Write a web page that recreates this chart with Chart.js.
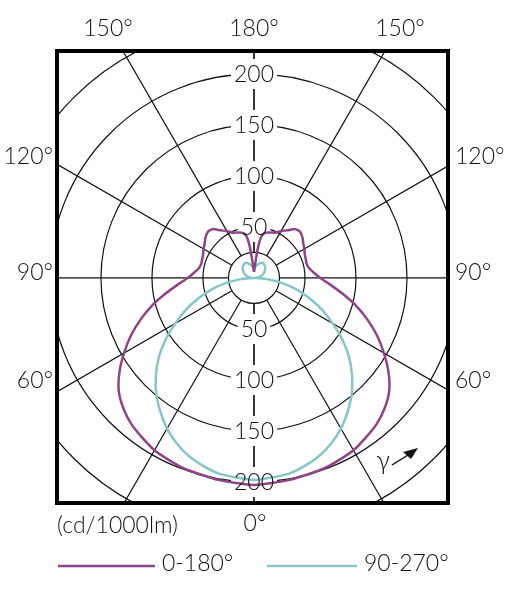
<!DOCTYPE html>
<html>
<head>
<meta charset="utf-8">
<script src="https://cdn.jsdelivr.net/npm/chart.js@4.4.1/dist/chart.umd.min.js"></script>
<style>
  html, body { margin: 0; padding: 0; background: #fff; }
  canvas { display: block; }
</style>
</head>
<body>
<canvas id="polarChart" width="526" height="600"></canvas>
<script>
// Luminous intensity, cd/1000lm, against gamma angle (0 = straight down)
const purpleGamma  = [0, 10, 20, 25, 30, 35, 40, 45, 50, 55, 60, 65, 70, 75, 80, 85, 90, 95, 100, 105, 110, 115, 120, 125, 130, 135, 140, 145, 150, 155, 160, 165, 168, 170, 172, 174, 176, 178, 180];
const purpleValues = [203, 201, 199, 197, 195, 191, 187, 181, 173, 161, 147, 133, 118, 103, 88, 75, 65, 59, 55, 53.5, 54, 55, 57, 59, 62, 64, 62.5, 57, 53, 49, 47.5, 46, 44, 41, 33, 20, 11, 7, 6];

const cyanGamma  = [0, 10, 15, 20, 25, 30, 35, 40, 45, 50, 55, 60, 65, 70, 75, 80, 85, 88, 90, 95, 100, 110, 120, 135, 150, 160, 170, 180];
const cyanValues = [198, 195, 191, 186, 179, 170.5, 160, 149, 136, 122, 106, 89, 73.5, 57.5, 43, 27.5, 13, 5, 0, 3, 5, 9, 12, 15.5, 17, 15, 12, 10];

const seriesNames = ['0-180°', '90-270°'];
const seriesColors = ['#8d4586', '#86c6c6'];

const ringValues = [25, 50, 100, 150, 200, 250];
const ringLabels = [50, 100, 150, 200];
const spokeAngles = [0, 30, 60, 90, 120, 150, 180];
const unitLabel = '(cd/1000lm)';

const FONT = '300 23px Lato, "Open Sans", sans-serif';

const rad = d => d * Math.PI / 180;

// mirror one plane onto both sides of the vertical axis
function toPoints(gammas, values) {
    const side = s => gammas.map((g, i) => ({
        x: s * values[i] * Math.sin(rad(g)),
        y: -values[i] * Math.cos(rad(g))
    }));
    return side(-1).reverse().concat(side(1).slice(1));
}

const polarGrid = {
    id: 'polarGrid',
    beforeDatasetsDraw(chart) {
        const { ctx, chartArea: a, scales: { x, y } } = chart;
        const cx = x.getPixelForValue(0), cy = y.getPixelForValue(0);
        const k = x.getPixelForValue(100) - cx; // px per 100 units
        ctx.save();
        ctx.beginPath();
        ctx.rect(a.left, a.top, a.width, a.height);
        ctx.clip();
        ctx.strokeStyle = '#111';
        ctx.lineWidth = 1.2;
        ringValues.forEach(v => {
            ctx.beginPath();
            ctx.arc(cx, cy, v * k / 100, 0, Math.PI * 2);
            ctx.stroke();
        });
        const r0 = 25 * k / 100, r1 = 500;
        spokeAngles.forEach(g => {
            [-1, 1].forEach(s => {
                const dx = s * Math.sin(rad(g)), dy = Math.cos(rad(g));
                ctx.beginPath();
                ctx.moveTo(cx + dx * r0, cy + dy * r0);
                ctx.lineTo(cx + dx * r1, cy + dy * r1);
                ctx.stroke();
            });
        });
        // white boxes behind the intensity labels
        ctx.font = FONT;
        ctx.fillStyle = '#fff';
        ringLabels.forEach(v => {
            const w = ctx.measureText(String(v)).width;
            [1, -1].forEach(s => {
                const py = y.getPixelForValue(s * v);
                ctx.fillRect(cx - w / 2 - 3, py - 15, w + 6, 30);
            });
        });
        ctx.restore();
    },
    afterDatasetsDraw(chart) {
        const { ctx, chartArea: a, scales: { x, y } } = chart;
        const cx = x.getPixelForValue(0);
        ctx.save();
        ctx.fillStyle = '#111';
        ctx.font = FONT;
        ctx.textAlign = 'center';
        ctx.textBaseline = 'middle';
        ringLabels.forEach(v => {
            [1, -1].forEach(s => ctx.fillText(String(v), cx, y.getPixelForValue(s * v) + 1));
        });

        // frame
        ctx.strokeStyle = '#000';
        ctx.lineWidth = 4;
        ctx.strokeRect(a.left, a.top, a.width, a.height);

        // gamma arrow
        ctx.font = '300 26px Lato, "Open Sans", sans-serif';
        ctx.fillText('γ', 383, 461);
        ctx.lineWidth = 1.3;
        ctx.beginPath();
        ctx.moveTo(392, 465);
        ctx.lineTo(408, 455);
        ctx.stroke();
        ctx.beginPath();
        ctx.moveTo(418, 448);
        ctx.lineTo(403, 452);
        ctx.lineTo(411, 459);
        ctx.closePath();
        ctx.fill();

        // angle labels
        ctx.font = FONT;
        ctx.fillText('150°', 108, 29);
        ctx.fillText('180°', 254, 29);
        ctx.fillText('150°', 400, 29);
        ctx.fillText('0°', 255, 524);
        ctx.textAlign = 'right';
        ctx.fillText('120°', 53, 157);
        ctx.fillText('90°', 53, 273);
        ctx.fillText('60°', 53, 381);
        ctx.textAlign = 'left';
        ctx.fillText('120°', 455, 157);
        ctx.fillText('90°', 455, 273);
        ctx.fillText('60°', 455, 381);
        ctx.fillText(unitLabel, 57, 526);

        // legend
        const legendX = [[58, 155, 162], [267, 357, 364]];
        seriesNames.forEach((name, i) => {
            const [x0, x1, tx] = legendX[i];
            ctx.strokeStyle = seriesColors[i];
            ctx.lineWidth = 2.5;
            ctx.beginPath();
            ctx.moveTo(x0, 566);
            ctx.lineTo(x1, 566);
            ctx.stroke();
            ctx.fillText(name, tx, 564);
        });
        ctx.restore();
    }
};

const ctx = document.getElementById('polarChart').getContext('2d');
new Chart(ctx, {
    type: 'scatter',
    data: {
        datasets: [
            {
                label: seriesNames[0],
                data: toPoints(purpleGamma, purpleValues),
                borderColor: seriesColors[0],
                borderWidth: 2.5,
                showLine: true,
                pointRadius: 0,
                tension: 0.2
            },
            {
                label: seriesNames[1],
                data: toPoints(cyanGamma, cyanValues),
                borderColor: seriesColors[1],
                borderWidth: 2.5,
                showLine: true,
                pointRadius: 0,
                tension: 0.2
            }
        ]
    },
    options: {
        responsive: false,
        animation: false,
        devicePixelRatio: 1,
        layout: { padding: { left: 57, right: 78, top: 51, bottom: 97 } },
        scales: {
            x: { type: 'linear', display: false, min: -193.1, max: 190.2 },
            y: { type: 'linear', display: false, min: -220.6, max: 222.5 }
        },
        plugins: {
            legend: { display: false },
            tooltip: { enabled: false }
        }
    },
    plugins: [polarGrid]
});
</script>
</body>
</html>
